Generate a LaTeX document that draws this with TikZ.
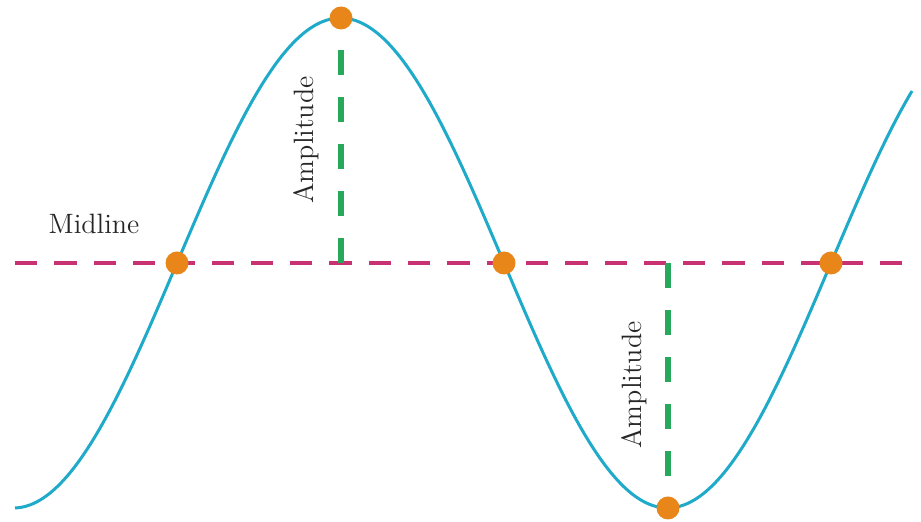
\documentclass[tikz,border=0pt]{standalone}
\definecolor{wave}{RGB}{30,170,200}
\definecolor{midc}{RGB}{200,50,115}
\definecolor{ampc}{RGB}{40,168,90}
\definecolor{dotc}{RGB}{232,134,26}
\tikzset{
  wavecurve/.style={draw=wave, line width=1.5pt},
  midlinestyle/.style={draw=midc, line width=2pt, dash pattern=on 11.15pt off 8.5pt},
  ampline/.style={draw=ampc, line width=2.8pt, dash pattern=on 12.5pt off 11pt},
  keydot/.style={circle, fill=dotc, inner sep=0pt, minimum size=11.5pt},
  lbl/.style={font=\fontsize{14}{16}\selectfont, text=black!85, inner sep=0pt}
}
\begin{document}
\begin{tikzpicture}[x=0.5pt, y=-0.5pt]
\useasboundingbox (0,0) rectangle (921,522);
% curve
\draw[wavecurve] plot[domain=15:912, samples=240, smooth] (\x, {263 - 245*sin((\x-177)/654*360)});
% midline
\coordinate (mlL) at (15,263);
\coordinate (mlR) at (905,263);
\draw[midlinestyle] (mlL) -- (mlR);
% key points
\node[keydot] (z1) at (177,263) {};
\node[keydot] (pk) at (341,18) {};
\node[keydot] (z2) at (504,263) {};
\node[keydot] (tr) at (668,508) {};
\node[keydot] (z3) at (831,263) {};
% amplitude lines
\coordinate (m1) at (341,263);
\coordinate (a1) at (341,48);
\coordinate (m2) at (668,263);
\coordinate (a2) at (668,479);
\draw[ampline] (m1) -- (a1);
\draw[ampline] (m2) -- (a2);
% labels
\node[lbl] (ml) at (94,224) {Midline};
\node[lbl, rotate=90] (amp1) at (306,140) {Amplitude};
\node[lbl, rotate=90] (amp2) at (634,385) {Amplitude};
\end{tikzpicture}
\end{document}
